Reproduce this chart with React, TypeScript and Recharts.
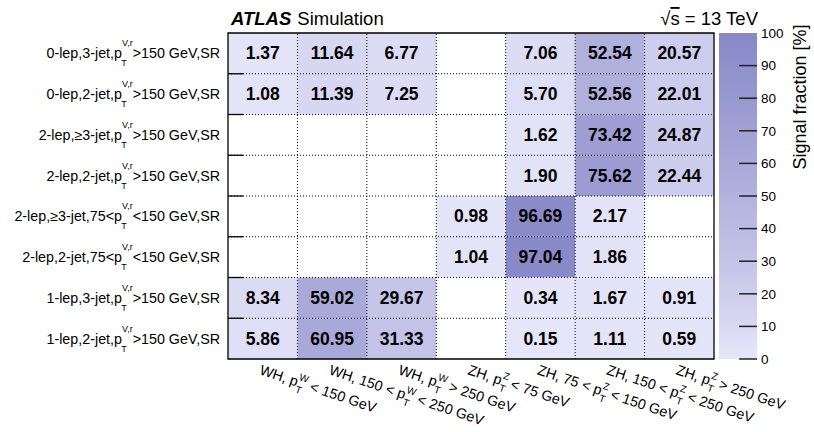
import React from 'react';
import { ScatterChart, Scatter, XAxis, YAxis, ReferenceArea, ReferenceLine } from 'recharts';

const FONT = '"Liberation Sans", Arial, Helvetica, sans-serif';

// y-axis categories: text before and after the p_T^{V,r} symbol
const rowLabels: [string, string][] = [
  ['0-lep,3-jet,', '>150 GeV,SR'],
  ['0-lep,2-jet,', '>150 GeV,SR'],
  ['2-lep,\u22653-jet,', '>150 GeV,SR'],
  ['2-lep,2-jet,', '>150 GeV,SR'],
  ['2-lep,\u22653-jet,75<', '<150 GeV,SR'],
  ['2-lep,2-jet,75<', '<150 GeV,SR'],
  ['1-lep,3-jet,', '>150 GeV,SR'],
  ['1-lep,2-jet,', '>150 GeV,SR'],
];

// x-axis categories: [before p, superscript, after]
const colLabels: [string, string, string][] = [
  ['WH, ', 'W', ' < 150 GeV'],
  ['WH, 150 < ', 'W', ' < 250 GeV'],
  ['WH, ', 'W', ' > 250 GeV'],
  ['ZH, ', 'Z', ' < 75 GeV'],
  ['ZH, 75 < ', 'Z', ' < 150 GeV'],
  ['ZH, 150 < ', 'Z', ' < 250 GeV'],
  ['ZH, ', 'Z', ' > 250 GeV'],
];

// signal fraction [%] per region (row), one value per STXS bin (column)
const lep0Jet3 = [1.37, 11.64, 6.77, null, 7.06, 52.54, 20.57];
const lep0Jet2 = [1.08, 11.39, 7.25, null, 5.7, 52.56, 22.01];
const lep2Jet3High = [null, null, null, null, 1.62, 73.42, 24.87];
const lep2Jet2High = [null, null, null, null, 1.9, 75.62, 22.44];
const lep2Jet3Mid = [null, null, null, 0.98, 96.69, 2.17, null];
const lep2Jet2Mid = [null, null, null, 1.04, 97.04, 1.86, null];
const lep1Jet3 = [8.34, 59.02, 29.67, null, 0.34, 1.67, 0.91];
const lep1Jet2 = [5.86, 60.95, 31.33, null, 0.15, 1.11, 0.59];

const matrix: (number | null)[][] = [
  lep0Jet3, lep0Jet2, lep2Jet3High, lep2Jet2High,
  lep2Jet3Mid, lep2Jet2Mid, lep1Jet3, lep1Jet2,
];

const colorTicks = [0, 10, 20, 30, 40, 50, 60, 70, 80, 90, 100];

const LOW = [230, 230, 250];
const HIGH = [136, 136, 200];

function fracColor(v: number) {
  const t = Math.pow(Math.max(0, Math.min(100, v)) / 100, 0.85);
  const c = LOW.map((lo, i) => Math.round(lo + (HIGH[i] - lo) * t));
  return `rgb(${c[0]},${c[1]},${c[2]})`;
}

const nRows = rowLabels.length;
const nCols = colLabels.length;

const cells = matrix.flatMap((vals, r) =>
  vals
    .map((v, c) => (v == null ? null : { x: c + 0.5, y: r + 0.5, r, c, v }))
    .filter((d): d is { x: number; y: number; r: number; c: number; v: number } => d !== null)
);

const rowTicks = rowLabels.map((_, i) => i + 0.5);
const colTicks = colLabels.map((_, i) => i + 0.5);
const rowEdges = rowLabels.slice(1).map((_, i) => i + 1);
const colEdges = colLabels.slice(1).map((_, i) => i + 1);
const barPoints = colorTicks.map((t) => ({ x: 0.5, y: t }));

const RowTick = ({ x, y, payload }: any) => {
  const [pre, post] = rowLabels[Math.floor(payload.value)];
  return (
    <text x={x} y={y + 5} textAnchor="end" fontSize={14.3} fontFamily={FONT} fill="#000">
      <tspan>{pre}p</tspan>
      <tspan dy={-12} fontSize={9}>V,r</tspan>
      <tspan dx={-11.5} dy={20} fontSize={9}>T</tspan>
      <tspan dx={6} dy={-8}>{post}</tspan>
    </text>
  );
};

const ColTick = ({ x, y, payload }: any) => {
  const i = Math.floor(payload.value);
  const [pre, sup, post] = colLabels[i];
  const supW = sup === 'W' ? 9.4 : 6.1;
  const x0 = x - 4;
  const y0 = y + 15;
  return (
    <text
      x={x0}
      y={y0}
      transform={`rotate(18.5 ${x0} ${y0})`}
      fontSize={14.3}
      fontFamily={FONT}
      fill="#000"
    >
      <tspan>{pre}p</tspan>
      <tspan dy={-7} fontSize={10}>{sup}</tspan>
      <tspan dx={-supW} dy={13} fontSize={10}>T</tspan>
      <tspan dx={supW - 6.1} dy={-6}>{post}</tspan>
    </text>
  );
};

const ValueLabel = ({ cx, cy, payload }: any) => (
  <text
    x={cx}
    y={cy + 6}
    textAnchor="middle"
    fontSize={17.5}
    fontWeight="bold"
    fontFamily={FONT}
    fill="#000"
  >
    {payload.v.toFixed(2)}
  </text>
);

function HeatMap() {
  return (
    <ScatterChart width={814} height={432} margin={{ top: 33, right: 100, bottom: 0, left: 0 }}>
      <XAxis
        type="number"
        dataKey="x"
        domain={[0, nCols]}
        ticks={colTicks}
        interval={0}
        height={73}
        tickLine={false}
        axisLine={false}
        tickSize={0}
        tickMargin={0}
        tick={<ColTick />}
        allowDataOverflow
      />
      <YAxis
        type="number"
        dataKey="y"
        domain={[0, nRows]}
        reversed
        ticks={rowTicks}
        interval={0}
        width={228}
        tickLine={false}
        axisLine={false}
        tickSize={0}
        tickMargin={8}
        tick={<RowTick />}
        allowDataOverflow
      />
      {cells.map((d) => (
        <ReferenceArea
          key={`cell-${d.r}-${d.c}`}
          x1={d.c}
          x2={d.c + 1}
          y1={d.r}
          y2={d.r + 1}
          fill={fracColor(d.v)}
          fillOpacity={1}
          stroke="none"
          ifOverflow="visible"
        />
      ))}
      {rowEdges.map((e) => (
        <ReferenceLine key={`h-${e}`} y={e} stroke="#000" strokeDasharray="1 2" strokeWidth={1} />
      ))}
      {colEdges.map((e) => (
        <ReferenceLine key={`v-${e}`} x={e} stroke="#000" strokeDasharray="1 2" strokeWidth={1} />
      ))}
      {rowEdges.map((e) => (
        <ReferenceLine
          key={`t-${e}`}
          segment={[{ x: 0, y: e }, { x: 0.22, y: e }]}
          stroke="#000"
          strokeWidth={1.3}
        />
      ))}
      <ReferenceArea
        x1={0}
        x2={nCols}
        y1={0}
        y2={nRows}
        fill="none"
        stroke="#000"
        strokeWidth={1.3}
        ifOverflow="visible"
      />
      <Scatter data={cells} isAnimationActive={false} shape={<ValueLabel />} />
    </ScatterChart>
  );
}

function ColorBar() {
  return (
    <ScatterChart width={814} height={432} margin={{ top: 33, right: 17, bottom: 73, left: 719 }}>
      <defs>
        <linearGradient id="cbar" x1="0" y1="1" x2="0" y2="0">
          {colorTicks.map((t) => (
            <stop key={t} offset={`${t}%`} stopColor={fracColor(t)} />
          ))}
        </linearGradient>
      </defs>
      <XAxis type="number" dataKey="x" domain={[0, 1]} hide />
      <YAxis
        type="number"
        dataKey="y"
        orientation="right"
        domain={[0, 100]}
        ticks={colorTicks}
        interval={0}
        width={40}
        tickLine={false}
        axisLine={false}
        tickSize={0}
        tickMargin={4}
        tick={{ fontSize: 13.5, fill: '#000', fontFamily: FONT }}
        allowDataOverflow
      />
      <ReferenceArea x1={0} x2={1} y1={0} y2={100} fill="url(#cbar)" fillOpacity={1} stroke="none" ifOverflow="visible" />
      {colorTicks.slice(0, -1).map((t) => (
        <ReferenceLine
          key={`ct-${t}`}
          segment={[{ x: 0.53, y: t }, { x: 1, y: t }]}
          stroke="#222"
          strokeWidth={1.5}
          ifOverflow="visible"
        />
      ))}
      <Scatter data={barPoints} isAnimationActive={false} shape={() => <g />} />
    </ScatterChart>
  );
}

function Annotations() {
  return (
    <svg width={814} height={432} style={{ position: 'absolute', left: 0, top: 0, pointerEvents: 'none' }}>
      <text x={231} y={25} fontSize={18.5} fontFamily={FONT} fill="#000">
        <tspan fontWeight="bold" fontStyle="italic">ATLAS</tspan>
        <tspan dx={6}>Simulation</tspan>
      </text>
      <text x={758} y={25} fontSize={18.5} fontFamily={FONT} fill="#000" textAnchor="end">
        <tspan>{'\u221A'}</tspan>
        <tspan textDecoration="overline">s</tspan>
        <tspan> = 13 TeV</tspan>
      </text>
      <text
        x={806}
        y={97}
        transform="rotate(-90 806 97)"
        textAnchor="middle"
        fontSize={18}
        fontFamily={FONT}
        fill="#000"
      >
        Signal fraction [%]
      </text>
    </svg>
  );
}

export default function App() {
  return (
    <div style={{ position: 'fixed', left: 0, top: 0, width: 814, height: 432, background: '#fff' }}>
      <div style={{ position: 'absolute', left: 0, top: 0 }}>
        <HeatMap />
      </div>
      <div style={{ position: 'absolute', left: 0, top: 0 }}>
        <ColorBar />
      </div>
      <Annotations />
    </div>
  );
}
